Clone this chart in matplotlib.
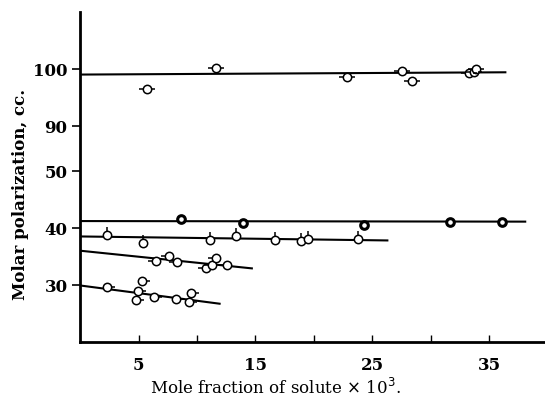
import numpy as np
import matplotlib
matplotlib.use("Agg")
import matplotlib.pyplot as plt
from matplotlib.path import Path

# upper group (~100 cc.)
up_x = [5.7, 11.65, 22.85, 27.56, 28.4, 33.3, 33.7, 33.9]
up_y = [96.5, 100.1, 98.65, 99.7, 97.8, 99.2, 99.5, 99.9]
up_line_x = [0, 36.4]
up_line_y = [99.0, 99.4]

# ~41 cc. series (heavy circles)
a_x = [8.65, 13.9, 24.3, 31.7, 36.1]
a_y = [41.6, 40.9, 40.5, 41.0, 41.1]
a_line_x = [0, 38.1]
a_line_y = [41.2, 41.1]

# ~38 cc. series
b_x = [2.28, 5.42, 11.08, 13.37, 16.7, 18.94, 19.5, 23.76]
b_y = [38.67, 37.36, 37.8, 38.5, 37.9, 37.76, 38.05, 38.1]
b_line_x = [0, 26.3]
b_line_y = [38.5, 37.8]

# ~35 cc. series
c_x = [6.5, 7.57, 8.28, 10.76, 11.28, 11.6, 12.56]
c_y = [34.2, 35.1, 34.1, 32.93, 33.57, 34.66, 33.57]
c_line_x = [0, 14.7]
c_line_y = [36.0, 32.9]

# ~29 cc. series
d_x = [2.34, 4.94, 4.77, 5.34, 6.34, 8.22, 9.34, 9.5]
d_y = [29.7, 28.9, 27.4, 30.7, 27.9, 27.5, 27.0, 28.6]
d_line_x = [0, 11.94]
d_line_y = [29.9, 26.7]

xticks = [5, 10, 15, 20, 25, 30, 35]
xticklabels = ["5", "", "15", "", "25", "", "35"]
yticks = [30, 40, 50, 90, 100]


# broken axis: 50..90 squeezed into a short gap
def fwd(v):
    v = np.asarray(v, dtype=float)
    return np.where(v <= 50, v, np.where(v >= 90, v - 32.1, 50 + (v - 50) * 7.9 / 40))


def inv(u):
    u = np.asarray(u, dtype=float)
    return np.where(u <= 50, u, np.where(u >= 57.9, u + 32.1, 50 + (u - 50) * 40 / 7.9))


pip_left = Path([(-1.8, 0), (-1, 0)], [Path.MOVETO, Path.LINETO])
pip_right = Path([(1, 0), (1.8, 0)], [Path.MOVETO, Path.LINETO])
pip_both = Path([(-1.8, 0), (-1, 0), (1, 0), (1.8, 0)],
                [Path.MOVETO, Path.LINETO, Path.MOVETO, Path.LINETO])
pip_top = Path([(0, 1), (0, 1.8)], [Path.MOVETO, Path.LINETO])

plt.rcParams['font.family'] = ['DejaVu Serif']
fig = plt.figure(figsize=(5.45, 4.02), dpi=100)
ax = fig.add_axes([0.147, 0.147, 0.851, 0.821])
ax.set_yscale('function', functions=(fwd, inv))

k = 'black'
for lx, ly in [(up_line_x, up_line_y), (a_line_x, a_line_y), (b_line_x, b_line_y),
               (c_line_x, c_line_y), (d_line_x, d_line_y)]:
    ax.plot(lx, ly, color=k, lw=1.5, zorder=2)


def pts(x, y, pip, ew=1.1, ms=6):
    ax.plot(x, y, ls='none', marker='o', ms=ms, mfc='white', mec=k, mew=ew, zorder=3)
    if pip is not None:
        ax.plot(x, y, ls='none', marker=pip, ms=ms * 1.8, mec=k, mew=1.1, zorder=3)


pts(up_x, up_y, pip_both)
pts(a_x, a_y, None, ew=2.2, ms=5.5)
pts(b_x, b_y, pip_top)
pts(c_x, c_y, pip_left)
pts(d_x, d_y, pip_right)

ax.set_xlim(0, 39.7)
ax.set_ylim(20, 110)
ax.set_xticks(xticks)
ax.set_xticklabels(xticklabels)
ax.set_yticks(yticks)
ax.set_yticklabels([str(t) for t in yticks])
ax.tick_params(axis='x', direction='in', length=5, width=1, pad=10, labelsize=12)
ax.tick_params(axis='y', direction='out', length=6, width=1.2, pad=3, labelsize=12)
for t in ax.get_xticklabels() + ax.get_yticklabels():
    t.set_fontweight('bold')

ax.spines['top'].set_visible(False)
ax.spines['right'].set_visible(False)
ax.spines['left'].set_linewidth(2)
ax.spines['bottom'].set_linewidth(2)

ax.set_xlabel("Mole fraction of solute $\\times$ 10$^3$.", fontsize=12)
ax.xaxis.set_label_coords(0.42, -0.105)
ax.set_ylabel("Molar polarization, cc.", fontsize=12, fontweight='bold')
ax.yaxis.set_label_coords(-0.11, 0.45)

fig.savefig("out.png", dpi=100)
